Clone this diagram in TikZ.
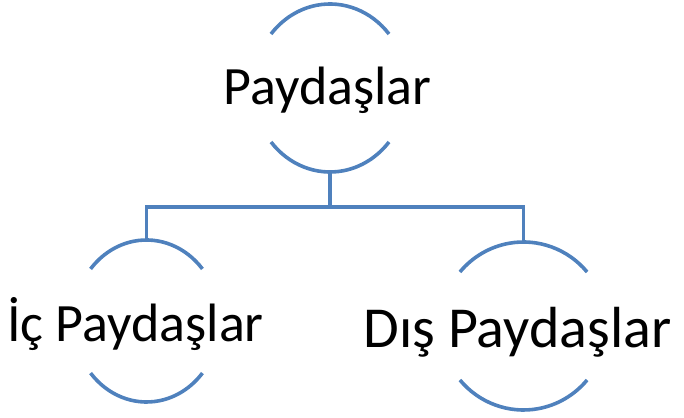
\documentclass[tikz,border=0pt]{standalone}
\usepackage{fontspec}
\setmainfont{Carlito}
\usepackage{xcolor}
\usepackage{tikz}
\usetikzlibrary{positioning,calc}
\definecolor{arcblue}{HTML}{4F81BD}

\begin{document}
\begin{tikzpicture}[x=1pt,y=1pt,font=\fontsize{54}{60}\selectfont,
  arcline/.style={draw=arcblue,line width=3.6pt},
  link/.style={draw=arcblue,line width=3.6pt}]
\useasboundingbox (0,0) rectangle (684,417);
% centres of the round frames
\coordinate (ctop) at (330,329);
\coordinate (cic)  at (146.5,96);
\coordinate (cdis) at (523.5,91);
% texts
\node[anchor=base,inner sep=0] (ptop) at (327.5,312) {Paydaşlar};
\node[anchor=base,inner sep=0] (pic)  at (135.5,75)  {İç Paydaşlar};
\node[anchor=base,inner sep=0,font=\fontsize{58}{64}\selectfont] (pdis) at (517.5,69) {Dış Paydaşlar};
\foreach \c/\a/\b in {ctop/77/84,cic/73/81,cdis/83/84}{
  \draw[arcline] ([shift={(40:\a pt and \b pt)}]\c) arc[start angle=40,end angle=140,x radius=\a pt,y radius=\b pt];
  \draw[arcline] ([shift={(220:\a pt and \b pt)}]\c) arc[start angle=220,end angle=320,x radius=\a pt,y radius=\b pt];
}
\coordinate (ctop-s) at ([yshift=-84pt]ctop);
\coordinate (cic-n)  at ([yshift=81pt]cic);
\coordinate (cdis-n) at ([yshift=84pt]cdis);
\draw[link] (ctop-s) -- ++(0,-35) coordinate (bus);
\draw[link] (cic-n) |- (bus) -| (cdis-n);
\end{tikzpicture}
\end{document}
